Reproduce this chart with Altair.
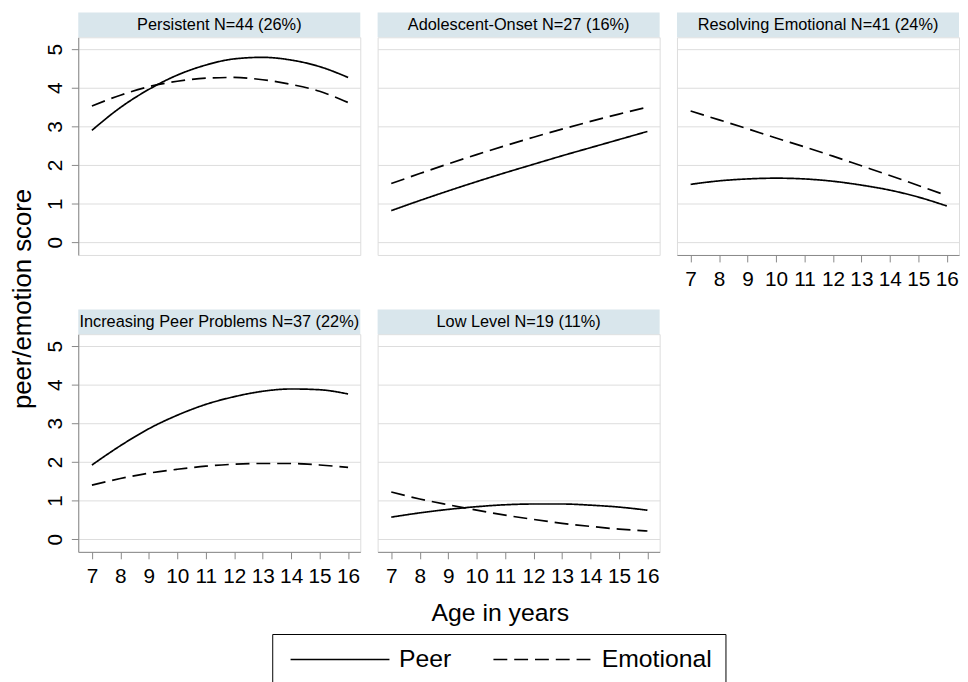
import altair as alt
import pandas as pd

ages = [7, 8, 9, 10, 11, 12, 13, 14, 15, 16]
panel_titles = [
    "Persistent N=44 (26%)",
    "Adolescent-Onset N=27 (16%)",
    "Resolving Emotional N=41 (24%)",
    "Increasing Peer Problems N=37 (22%)",
    "Low Level N=19 (11%)",
]
series_names = ["Peer", "Emotional"]
peer_scores = [
    [2.90, 3.49, 3.96, 4.33, 4.59, 4.75, 4.79, 4.72, 4.55, 4.27],
    [0.82, 1.08, 1.33, 1.57, 1.80, 2.02, 2.24, 2.45, 2.66, 2.87],
    [1.50, 1.59, 1.64, 1.66, 1.64, 1.58, 1.48, 1.35, 1.17, 0.94],
    [1.92, 2.42, 2.86, 3.21, 3.49, 3.69, 3.83, 3.89, 3.87, 3.76],
    [0.57, 0.68, 0.77, 0.84, 0.89, 0.91, 0.91, 0.88, 0.83, 0.75],
]
emotional_scores = [
    [3.53, 3.81, 4.03, 4.17, 4.25, 4.27, 4.21, 4.09, 3.91, 3.62],
    [1.52, 1.78, 2.03, 2.27, 2.50, 2.72, 2.93, 3.13, 3.32, 3.50],
    [3.40, 3.17, 2.94, 2.70, 2.47, 2.23, 1.98, 1.73, 1.47, 1.21],
    [1.40, 1.57, 1.71, 1.81, 1.89, 1.94, 1.96, 1.96, 1.92, 1.86],
    [1.22, 1.04, 0.89, 0.75, 0.62, 0.51, 0.41, 0.33, 0.26, 0.21],
]
y_ticks = [0, 1, 2, 3, 4, 5]
x_title = "Age in years"
y_title = "peer/emotion score"

W, H = 285, 220
FONT = "Liberation Sans"
X_DOMAIN = [6.52, 16.43]
Y_DOMAIN = [-0.33, 5.31]

legend = alt.Legend(
    orient="none", legendX=196, legendY=603, direction="horizontal", title=None,
    labelFontSize=25, labelFont=FONT, labelColor="black",
    symbolType="M-8,0H8", symbolSize=156, symbolStrokeWidth=1.6,
    symbolStrokeColor="black", symbolOffset=43, labelOffset=47,
    strokeColor="black", padding=13, columnPadding=37, fillColor="white",
)


def panel(i):
    rows = []
    for j, a in enumerate(ages):
        rows.append({"age": a, "score": peer_scores[i][j], "series": series_names[0]})
        rows.append({"age": a, "score": emotional_scores[i][j], "series": series_names[1]})
    df = pd.DataFrame(rows)

    show_y = i in (0, 3)
    show_x = i in (2, 3, 4)

    if show_y:
        yaxis_kw = dict(values=y_ticks, grid=True, labelAngle=270, labelAlign="center",
                        labelBaseline="bottom", labelPadding=6, labelFontSize=21,
                        tickSize=7, domain=True, ticks=True, labels=True)
        if i == 3:
            yaxis_kw.update(title=y_title, titleX=-43, titleY=-36, titleAngle=270,
                            titleAlign="center", titleBaseline="bottom",
                            titleFontSize=26, titleFontWeight="normal", titleFont=FONT,
                            titleColor="black")
        else:
            yaxis_kw.update(title=None)
    else:
        yaxis_kw = dict(values=y_ticks, grid=True, domain=False, ticks=False,
                        labels=False, title=None)
    yaxis = alt.Axis(**yaxis_kw)

    if show_x:
        xaxis_kw = dict(values=ages, grid=False, labelAngle=0, labelFontSize=21,
                        labelPadding=7, tickSize=7)
        if i == 4:
            xaxis_kw.update(title=x_title, titleX=123.5, titleY=49, titleAlign="center",
                            titleBaseline="top", titleFontSize=25,
                            titleFontWeight="normal", titleFont=FONT, titleColor="black")
        else:
            xaxis_kw.update(title=None)
        xaxis = alt.Axis(**xaxis_kw)
    else:
        xaxis = None

    lines = alt.Chart(df).mark_line(color="black", strokeWidth=1.7, interpolate="monotone").encode(
        x=alt.X("age:Q", scale=alt.Scale(domain=X_DOMAIN, nice=False, zero=False), axis=xaxis),
        y=alt.Y("score:Q", scale=alt.Scale(domain=Y_DOMAIN, nice=False, zero=False), axis=yaxis),
        strokeDash=alt.StrokeDash(
            "series:N",
            scale=alt.Scale(domain=series_names, range=[[1, 0], [14, 7]]),
            legend=legend,
        ),
        order=alt.Order("age:Q"),
    )

    hdr = pd.DataFrame({"label": [panel_titles[i]]})
    strip = alt.Chart(hdr).mark_rect(color="#d9e6ec").encode(
        x=alt.value(0), x2=alt.value(W), y=alt.value(-25), y2=alt.value(0)
    )
    label = alt.Chart(hdr).mark_text(fontSize=16.5, font=FONT, color="black",
                                     baseline="middle", align="center").encode(
        x=alt.value(W / 2), y=alt.value(-12), text="label:N"
    )
    return alt.layer(strip, label, lines).properties(width=W, height=H)


chart = alt.concat(
    *[panel(i) for i in range(5)],
    columns=3,
    spacing={"row": 80, "column": 17.5},
    bounds="flush",
).resolve_scale(strokeDash="shared").properties(
    padding={"left": 1, "top": 0, "right": 0, "bottom": 0}
).configure_view(stroke=None).configure_axis(
    labelFont=FONT, labelColor="black", domainColor="black", tickColor="black",
    domainWidth=1.3, tickWidth=1.3, gridColor="#e4eef3", gridWidth=1.5,
).configure(background="white")

chart.save("out.html", embed_options={"renderer": "svg", "actions": False})
